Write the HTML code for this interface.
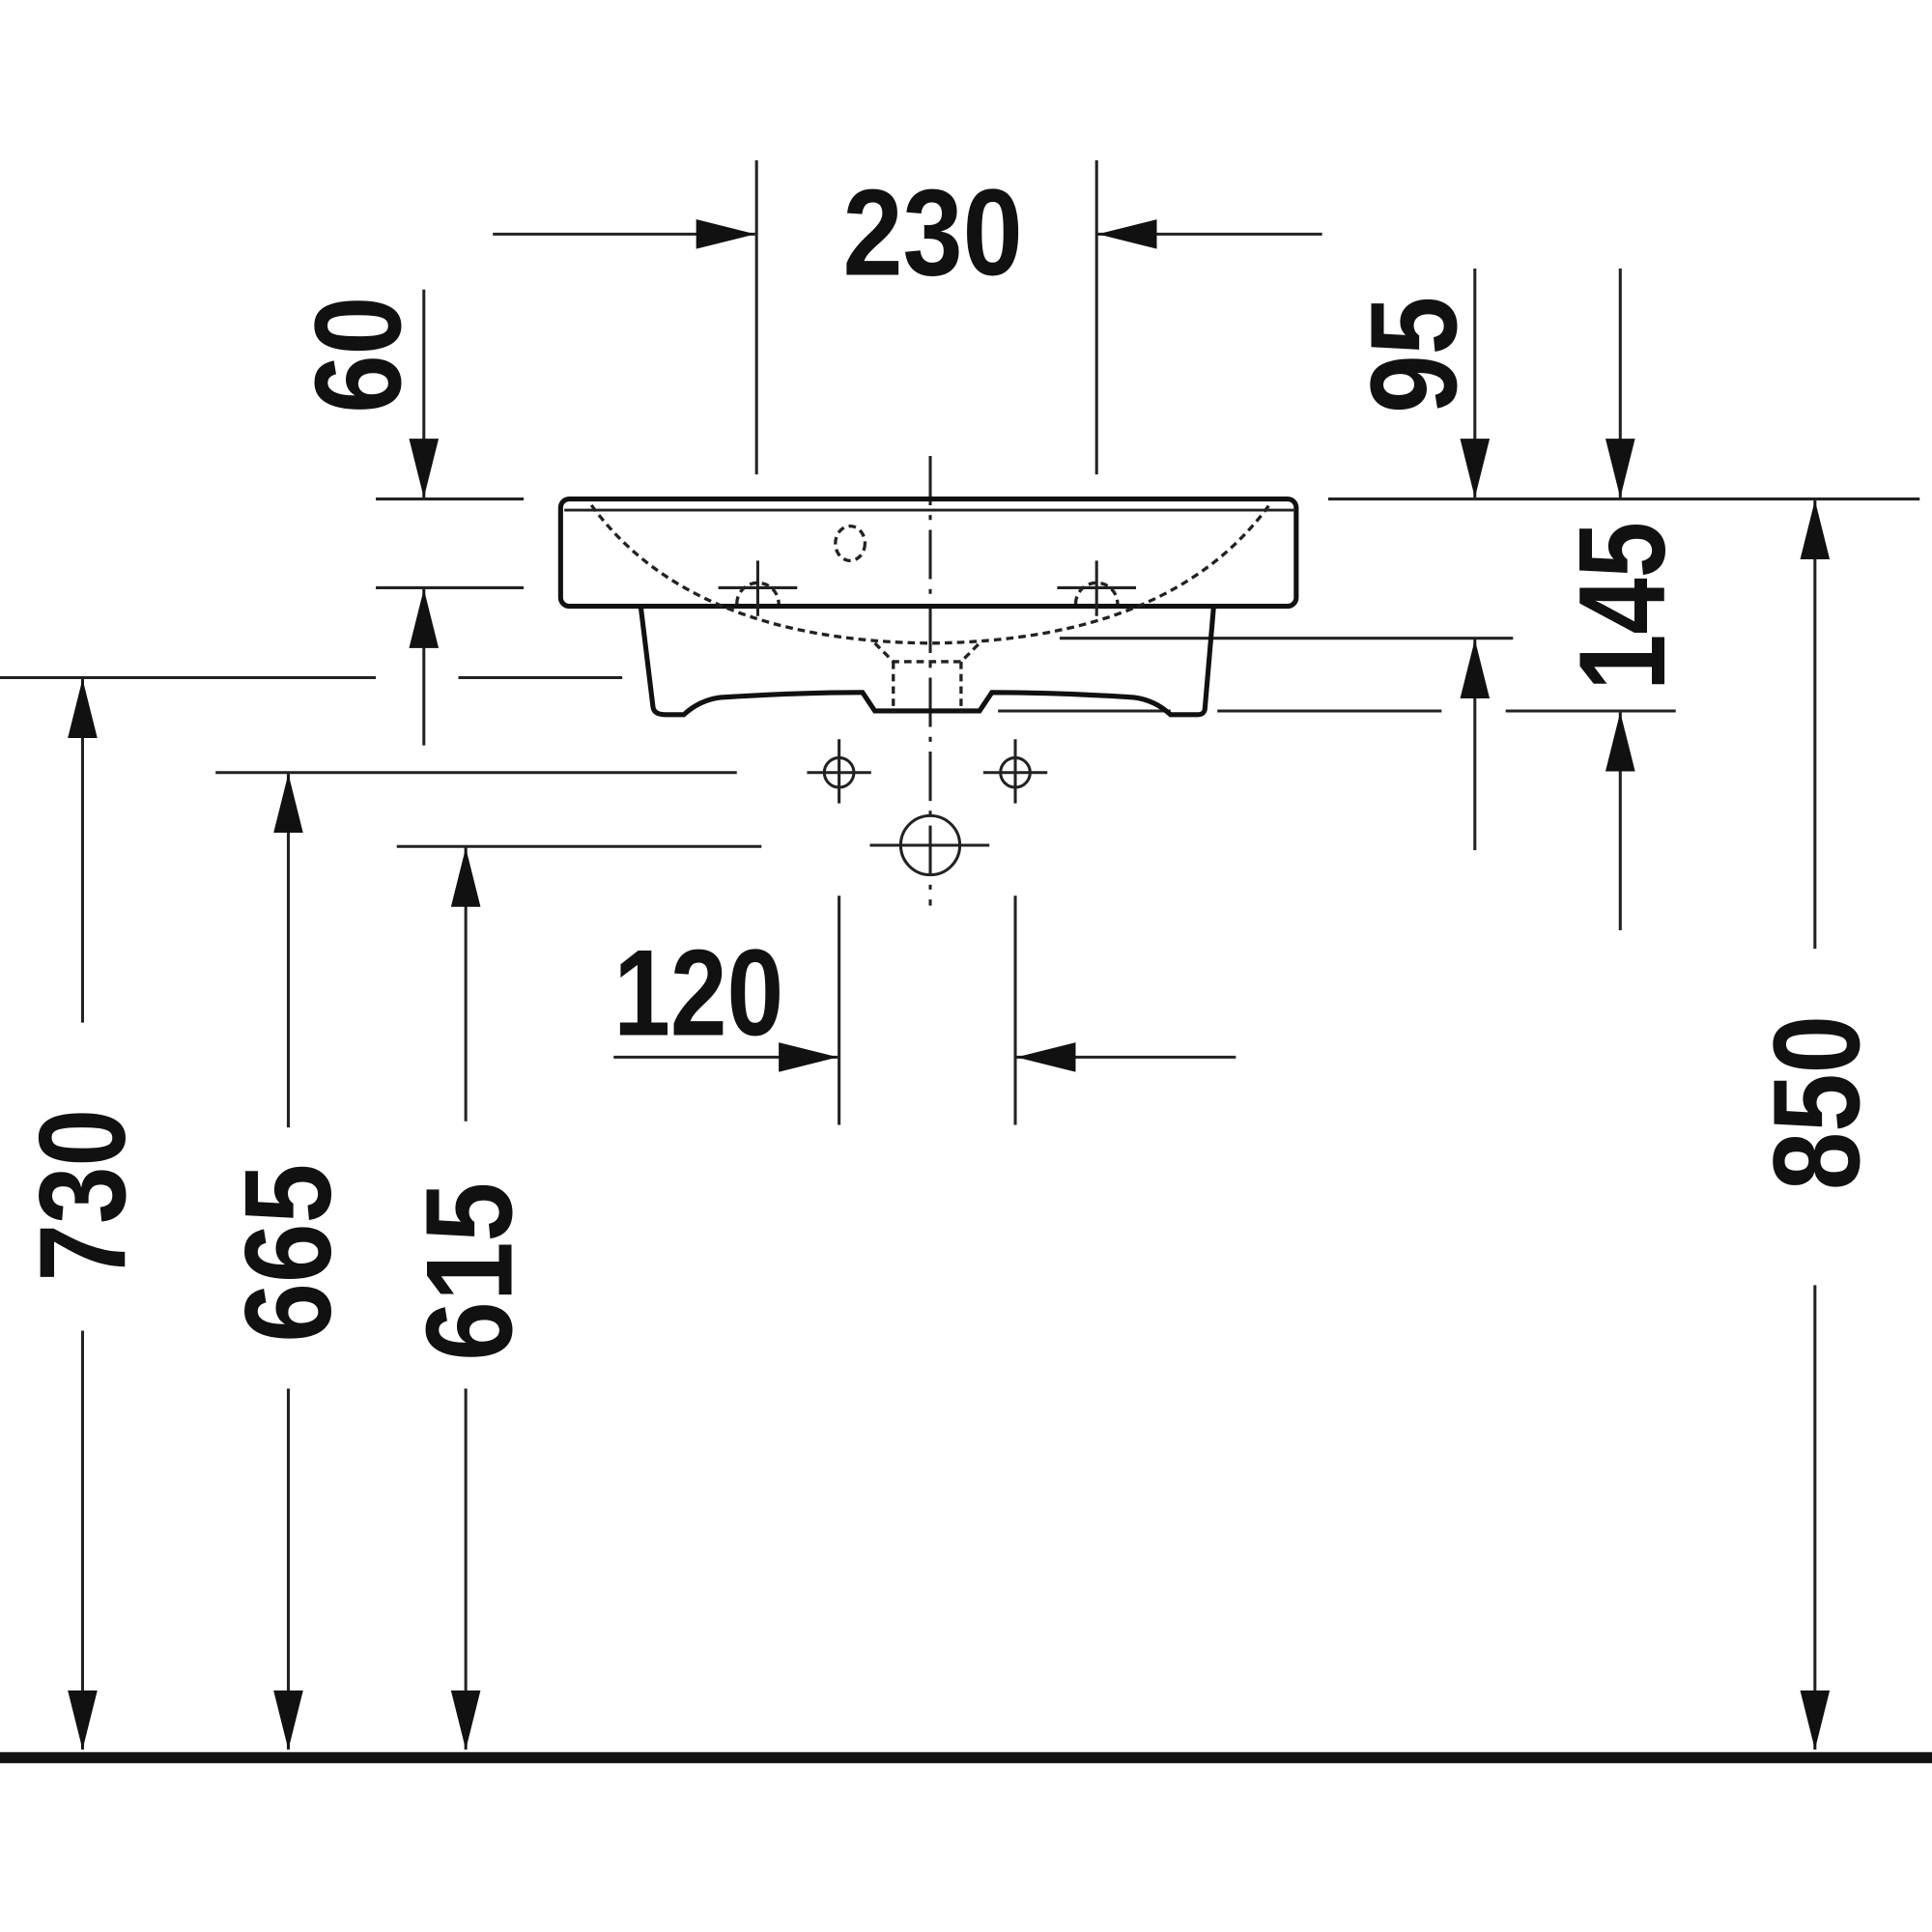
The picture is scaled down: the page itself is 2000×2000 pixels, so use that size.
<!DOCTYPE html>
<html><head><meta charset="utf-8"><style>
html,body{margin:0;padding:0;background:#fff}
svg{display:block}
text{font-family:"Liberation Sans Narrow","Liberation Sans",sans-serif;font-weight:bold;font-size:100px;fill:#111}
</style></head><body>
<svg width="2000" height="2000" viewBox="0 0 1568 1568" xmlns="http://www.w3.org/2000/svg">
<defs>
<marker id="a" viewBox="0 0 48 24" refX="48" refY="12" markerWidth="48" markerHeight="24" markerUnits="userSpaceOnUse" orient="auto"><path d="M0,0 L48,12 L0,24 Z" fill="#111"/></marker>
</defs>
<g stroke="#222" stroke-width="2.4" fill="none">
<line x1="614" y1="130" x2="614" y2="385"/>
<line x1="890" y1="130" x2="890" y2="385"/>
<line x1="400" y1="190" x2="613" y2="190" marker-end="url(#a)"/>
<line x1="1073" y1="190" x2="891" y2="190" marker-end="url(#a)"/>
<line x1="344" y1="235" x2="344" y2="404" marker-end="url(#a)"/>
<line x1="305" y1="405" x2="425" y2="405"/>
<line x1="305" y1="477" x2="425" y2="477"/>
<line x1="344" y1="605" x2="344" y2="478" marker-end="url(#a)"/>
<line x1="0" y1="550" x2="305" y2="550"/>
<line x1="372" y1="550" x2="505" y2="550"/>
<line x1="1197" y1="218" x2="1197" y2="404" marker-end="url(#a)"/>
<line x1="1315" y1="218" x2="1315" y2="404" marker-end="url(#a)"/>
<line x1="1078" y1="405" x2="1558" y2="405"/>
<line x1="1222" y1="577" x2="1360" y2="577"/>
<line x1="1315" y1="755" x2="1315" y2="578" marker-end="url(#a)"/>
<line x1="1197" y1="690" x2="1197" y2="519" marker-end="url(#a)"/>
<line x1="860" y1="518" x2="1228" y2="518"/>
<line x1="988" y1="577" x2="1170" y2="577"/>
<line x1="810" y1="577" x2="950" y2="577"/>
<line x1="1473" y1="770" x2="1473" y2="406" marker-end="url(#a)"/>
<line x1="1473" y1="1043" x2="1473" y2="1420" marker-end="url(#a)"/>
<line x1="67" y1="830" x2="67" y2="551" marker-end="url(#a)"/>
<line x1="67" y1="1080" x2="67" y2="1420" marker-end="url(#a)"/>
<line x1="175" y1="627" x2="598" y2="627"/>
<line x1="234" y1="915" x2="234" y2="628" marker-end="url(#a)"/>
<line x1="234" y1="1127" x2="234" y2="1420" marker-end="url(#a)"/>
<line x1="322" y1="687" x2="618" y2="687"/>
<line x1="378" y1="910" x2="378" y2="688" marker-end="url(#a)"/>
<line x1="378" y1="1127" x2="378" y2="1420" marker-end="url(#a)"/>
<line x1="681" y1="727" x2="681" y2="913"/>
<line x1="824" y1="727" x2="824" y2="913"/>
<line x1="498" y1="858" x2="680" y2="858" marker-end="url(#a)"/>
<line x1="1003" y1="858" x2="825" y2="858" marker-end="url(#a)"/>
<line x1="755" y1="370" x2="755" y2="735" stroke-dasharray="40,8,4,8"/>
<g stroke="#111" stroke-width="4">
<rect x="455" y="405" width="597" height="87" rx="7"/>
<path d="M520,492 L530,574 Q531,580 540,580 L555,580 Q568,568 585,566 Q650,562 700,562 L710,577 L795,577 L805,562 Q860,562 920,566 Q937,568 950,580 L972,580 Q978,580 978,574 L985,492"/>
</g>
<line x1="458" y1="414" x2="1050" y2="414" stroke-width="2.2"/>
<g stroke-dasharray="6,4" stroke-width="2.6">
<path d="M480,410 Q560,520 755,522 Q950,520 1030,410"/>
<path d="M710,522 L725,537 L780,537 L795,522"/>
<path d="M725,537 L725,578 M780,537 L780,578"/>
<path d="M598,490 A17,17 0 1 1 632,490"/>
<path d="M873,490 A17,17 0 1 1 907,490"/>
<ellipse cx="690" cy="441" rx="12" ry="14"/>
</g>
<line x1="615" y1="455" x2="615" y2="500"/><line x1="583" y1="477" x2="647" y2="477"/>
<line x1="890" y1="455" x2="890" y2="500"/><line x1="858" y1="477" x2="922" y2="477"/>
<circle cx="681" cy="627" r="12"/><line x1="681" y1="600" x2="681" y2="652"/><line x1="655" y1="627" x2="707" y2="627"/>
<circle cx="824" cy="627" r="12"/><line x1="824" y1="600" x2="824" y2="652"/><line x1="798" y1="627" x2="850" y2="627"/>
<circle cx="755" cy="686" r="24"/><line x1="706" y1="686" x2="803" y2="686"/>
</g>
<rect x="0" y="1422" width="1568" height="9" fill="#111"/>
<text x="757" y="223" text-anchor="middle" textLength="146" lengthAdjust="spacingAndGlyphs">230</text>
<text x="567" y="840" text-anchor="middle" textLength="138" lengthAdjust="spacingAndGlyphs">120</text>
<text transform="translate(325,288) rotate(-90)" text-anchor="middle" textLength="95" lengthAdjust="spacingAndGlyphs">60</text>
<text transform="translate(1182,288) rotate(-90)" text-anchor="middle" textLength="95" lengthAdjust="spacingAndGlyphs">95</text>
<text transform="translate(1351,492) rotate(-90)" text-anchor="middle" textLength="137" lengthAdjust="spacingAndGlyphs">145</text>
<text transform="translate(1509,895) rotate(-90)" text-anchor="middle" textLength="142" lengthAdjust="spacingAndGlyphs">850</text>
<text transform="translate(101,970) rotate(-90)" text-anchor="middle" textLength="140" lengthAdjust="spacingAndGlyphs">730</text>
<text transform="translate(268,1017) rotate(-90)" text-anchor="middle" textLength="145" lengthAdjust="spacingAndGlyphs">665</text>
<text transform="translate(415,1032) rotate(-90)" text-anchor="middle" textLength="145" lengthAdjust="spacingAndGlyphs">615</text>
</svg>
</body></html>
